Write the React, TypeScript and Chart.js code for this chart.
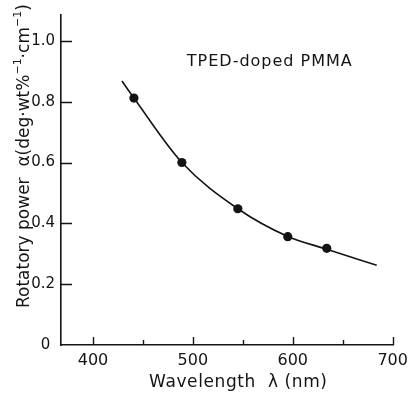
import React, { useEffect, useRef } from "react";
import { Chart, registerables } from "chart.js";
Chart.register(...registerables);

// Measured points (wavelength nm, rotatory power)
const wavelengths = [441, 489, 545, 595, 634];
const rotatoryPower = [0.812, 0.6, 0.448, 0.356, 0.318];
// Fitted curve
const curveWavelengths = [429, 441, 489, 545, 595, 634, 684];
const curvePower = [0.868, 0.812, 0.6, 0.448, 0.357, 0.315, 0.262];
// Axis ticks
const xTickValues = [400, 450, 500, 550, 600, 650, 700];
const yTickValues = [0, 0.2, 0.4, 0.6, 0.8, 1.0];
const xTitle = "Wavelength  λ (nm)";
const yTitleParts = [
  { t: "Rotatory power  α(deg·wt%", sup: false },
  { t: "−1", sup: true },
  { t: "·cm", sup: false },
  { t: "−1", sup: true },
  { t: ")", sup: false },
];
const annotationText = "TPED-doped PMMA";
const annotationAt = { x: 577, y: 0.932 };

const FONT = "'DejaVu Sans', sans-serif";
const INK = "#141414";

const drawPlugin = {
  id: "inwardTicksAndTitles",
  afterDraw(chart: any) {
    const ctx = chart.ctx;
    const xs = chart.scales.x;
    const ys = chart.scales.y;
    const area = chart.chartArea;
    ctx.save();
    ctx.strokeStyle = INK;
    ctx.lineWidth = 1.4;
    ctx.beginPath();
    xs.ticks.forEach((t: any) => {
      const px = Math.round(xs.getPixelForValue(t.value)) + 0.5;
      const len = t.value % 100 === 0 ? 8 : 5;
      ctx.moveTo(px, area.bottom);
      ctx.lineTo(px, area.bottom - len);
    });
    ys.ticks.forEach((t: any) => {
      if (t.value === 0) return;
      const py = Math.round(ys.getPixelForValue(t.value)) + 0.5;
      ctx.moveTo(area.left, py);
      ctx.lineTo(area.left + 11, py);
    });
    ctx.stroke();

    ctx.fillStyle = INK;
    // annotation
    ctx.font = `16px ${FONT}`;
    (ctx as any).letterSpacing = "1px";
    ctx.textAlign = "center";
    ctx.textBaseline = "middle";
    ctx.fillText(
      annotationText,
      xs.getPixelForValue(annotationAt.x),
      ys.getPixelForValue(annotationAt.y)
    );

    // x title
    ctx.font = `17px ${FONT}`;
    (ctx as any).letterSpacing = "0.6px";
    ctx.fillText(xTitle, (area.left + area.right) / 2 + 11, area.bottom + 38);

    // y title with superscripts
    ctx.translate(29, area.bottom - 37);
    ctx.rotate(-Math.PI / 2);
    ctx.textAlign = "left";
    ctx.textBaseline = "alphabetic";
    (ctx as any).letterSpacing = "0px";
    let cx = 0;
    yTitleParts.forEach((p) => {
      ctx.font = p.sup ? `11px ${FONT}` : `17px ${FONT}`;
      ctx.fillText(p.t, cx, p.sup ? -8 : 0);
      cx += ctx.measureText(p.t).width;
    });
    ctx.restore();
  },
};

export default function App() {
  const ref = useRef<HTMLCanvasElement | null>(null);
  useEffect(() => {
    document.body.style.margin = "0";
    const chart = new Chart(ref.current!, {
      type: "scatter",
      data: {
        datasets: [
          {
            type: "line",
            data: curveWavelengths.map((x, i) => ({ x, y: curvePower[i] })),
            borderColor: INK,
            borderWidth: 1.6,
            pointRadius: 0,
            cubicInterpolationMode: "monotone",
            fill: false,
          } as any,
          {
            type: "scatter",
            data: wavelengths.map((x, i) => ({ x, y: rotatoryPower[i] })),
            backgroundColor: INK,
            borderColor: INK,
            pointRadius: 4.6,
            borderWidth: 0,
          },
        ],
      },
      options: {
        animation: false,
        responsive: false,
        maintainAspectRatio: false,
        layout: { padding: { top: 10, right: 13, left: 0, bottom: 0 } },
        plugins: { legend: { display: false }, tooltip: { enabled: false } },
        scales: {
          x: {
            type: "linear",
            min: 368,
            max: 701,
            afterBuildTicks: (s: any) => {
              s.ticks = xTickValues.map((v) => ({ value: v }));
            },
            afterFit: (s: any) => {
              s.height = 51;
            },
            ticks: {
              color: INK,
              padding: 6,
              font: { family: FONT, size: 16 },
              callback: (v: any) => (Number(v) % 100 === 0 ? String(v) : ""),
            },
            grid: { drawOnChartArea: false, drawTicks: false },
            border: { display: true, color: INK, width: 1.6 },
            title: { display: false },
          },
          y: {
            type: "linear",
            min: 0,
            max: 1.085,
            afterBuildTicks: (s: any) => {
              s.ticks = yTickValues.map((v) => ({ value: v }));
            },
            afterFit: (s: any) => {
              s.width = 61;
            },
            ticks: {
              color: INK,
              padding: 6,
              font: { family: FONT, size: 15 },
              callback: (v: any) => (Number(v) === 0 ? "0 " : Number(v).toFixed(1)),
            },
            grid: { drawOnChartArea: false, drawTicks: false },
            border: { display: true, color: INK, width: 1.6 },
            title: { display: false },
          },
        },
      },
      plugins: [drawPlugin],
    });
    return () => chart.destroy();
  }, []);
  return (
    <div style={{ width: 414, height: 396, background: "#fff" }}>
      <canvas ref={ref} width={414} height={396} />
    </div>
  );
}
